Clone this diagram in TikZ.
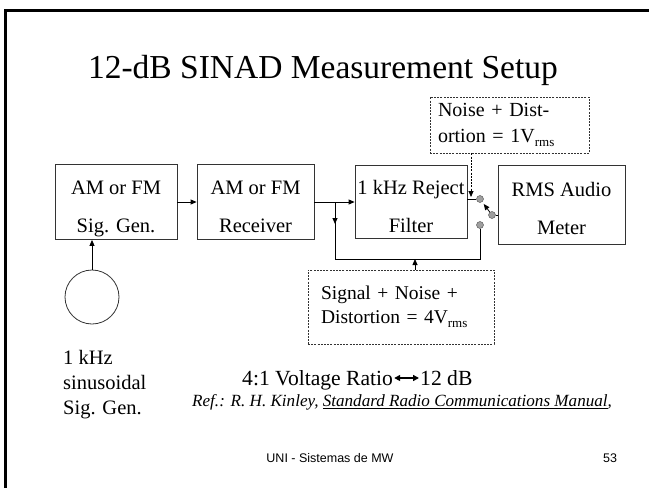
\documentclass[tikz,border=0pt]{standalone}
\usepackage{fontspec}
\setmainfont{Liberation Serif}
\setsansfont{Liberation Sans}
\usetikzlibrary{arrows.meta, calc, positioning, decorations.markings}

\newcommand{\rmsub}{\raisebox{-0.45ex}{\fontsize{13}{13}\selectfont rms}}

\tikzset{
  block/.style={draw=black!80, line width=0.8pt, inner sep=0pt, align=center,
    font=\fontsize{20.5}{38}\selectfont, text height=60pt, text depth=0pt},
  note/.style={draw=black!80, line width=0.8pt, dash pattern=on 2pt off 1.2pt,
    inner ysep=0pt, align=left},
  sig/.style={-{Triangle[length=6pt,width=5pt]}, line width=0.8pt},
  tap/.style={circle, fill=gray!75, draw=gray!60!black, inner sep=0pt, minimum size=7pt},
  midarrow/.style={decoration={markings,
    mark=at position 22pt with {\arrow{Triangle[length=6pt,width=5pt]}}}, postaction=decorate},
}

\begin{document}
\begin{tikzpicture}[x=1pt, y=-1pt]
  \useasboundingbox (0,0) rectangle (649,488);

  % Slide frame
  \draw[line width=3pt] (5,488) -- (5,10) -- (649,10);

  % Title
  \node[font=\fontsize{33.5}{36}\selectfont] (title) at (323,70) {12-dB SINAD Measurement Setup};

  % Blocks
  \node[block, minimum width=122pt, minimum height=75pt] (siggen) at (116,202) {AM or FM\\Sig. Gen.};
  \node[block, minimum width=117pt, minimum height=75pt] (rx) at (255.5,202) {AM or FM\\Receiver};
  \node[block, minimum width=112pt, minimum height=73pt] (rej) at (411,202) {1 kHz Reject\\Filter};
  \node[block, minimum width=127pt, minimum height=79pt] (rms) at (561.5,204.5) {RMS Audio\\Meter};

  % Sinusoidal source
  \node[circle, draw=black!80, line width=0.8pt, minimum size=54pt] (osc) at (92,297) {};
  \node[anchor=north west, align=left, inner sep=0pt, font=\fontsize{20.5}{25}\selectfont]
    (osclabel) at (63,350) {1 kHz\\sinusoidal\\Sig. Gen.};

  % Dashed notes
  \node[note, text width=143pt, inner xsep=8pt, minimum height=56pt,
    font=\fontsize{20}{26}\selectfont] (noise) at (509.5,125) {Noise + Dist-\\ortion = 1V\rmsub};
  \node[note, text width=160pt, inner xsep=13pt, minimum height=74pt,
    font=\fontsize{19.5}{24}\selectfont] (sum) at (401,307) {Signal + Noise +\\Distortion = 4V\rmsub};

  % Switch contacts
  \node[tap] (dotup) at (480,199) {};
  \node[tap] (pivot) at (492,215) {};
  \node[tap] (dotlow) at (480,225) {};

  % Signal path
  \draw[sig] (osc.north) -- (osc.north |- siggen.south);
  \draw[sig] (siggen.east) -- (siggen.east -| rx.west);
  \draw[sig] (rx.east) -- (rx.east -| rej.west);
  \coordinate (split) at (335,202);
  \coordinate (bend) at (480,259);
  \draw[line width=0.8pt, midarrow] (split) |- (bend) -- (dotlow);
  \coordinate (merge) at (415,259);
  \draw[sig] (merge |- sum.north) -- (merge);
  \draw[line width=0.8pt] (dotup -| rej.east) -- (dotup);
  \coordinate (probe) at (471,197);
  \draw[sig, dash pattern=on 2pt off 1.2pt] (probe |- noise.south) -- (probe);
  \draw[sig, shorten >=2.5pt] (pivot) -- (dotup);
  \draw[line width=0.8pt] (pivot) -- (pivot -| rms.west);

  % Ratio and reference
  \node[anchor=base west, inner sep=1pt, font=\fontsize{21.6}{23}\selectfont] (ratio) at (241,385) {4:1 Voltage Ratio};
  \node[anchor=base west, inner sep=1pt, font=\fontsize{21.6}{23}\selectfont] (db) at (419,385) {12 dB};
  \draw[{Triangle[length=6pt,width=6pt]}-{Triangle[length=6pt,width=6pt]}, line width=1.5pt]
    ($(ratio.base east)+(0,-7)$) -- ($(db.base west)+(0,-7)$);
  \node[anchor=west, inner sep=0pt, font=\fontsize{17.1}{19}\selectfont\itshape] (ref) at (192,402)
    {Ref.: R. H. Kinley, \underline{Standard Radio Communications Manual},};

  % Footer
  \node[font=\sffamily\fontsize{12.5}{14}\selectfont] (foot) at (330,458) {UNI - Sistemas de MW};
  \node[font=\sffamily\fontsize{12.5}{14}\selectfont] (page) at (610,458) {53};
\end{tikzpicture}
\end{document}
